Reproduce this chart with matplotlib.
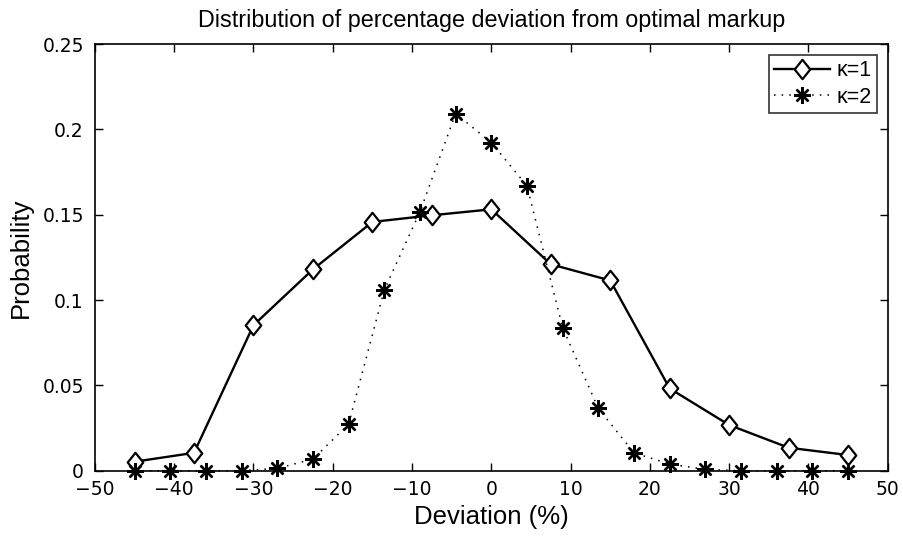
import matplotlib
matplotlib.use("Agg")
from matplotlib import pyplot as plt
from matplotlib.path import Path

plt.rcParams["font.family"] = ["Liberation Sans", "DejaVu Sans"]

# kappa = 1 (diamonds)
x_k1 = [-45, -37.5, -30, -22.5, -15, -7.5, 0, 7.5, 15, 22.5, 30, 37.5, 45]
p_k1 = [0.0053, 0.0105, 0.0853, 0.118, 0.1458, 0.1497, 0.1532, 0.121, 0.1115,
        0.0482, 0.0268, 0.0135, 0.0092]

# kappa = 2 (stars)
x_k2 = [-45, -40.5, -36, -31.5, -27, -22.5, -18, -13.5, -9, -4.5, 0, 4.5, 9,
        13.5, 18, 22.5, 27, 31.5, 36, 40.5, 45]
p_k2 = [0.0, 0.0, 0.0, 0.0, 0.0014, 0.0068, 0.0273, 0.106, 0.1517, 0.2093,
        0.1923, 0.1669, 0.0837, 0.0365, 0.0105, 0.0039, 0.0008, 0.0, 0.0, 0.0, 0.0]

x_ticks = [-50, -40, -30, -20, -10, 0, 10, 20, 30, 40, 50]
y_ticks = [0, 0.05, 0.1, 0.15, 0.2, 0.25]
y_labels = ["0", "0.05", "0.1", "0.15", "0.2", "0.25"]

# rombo un poco mas alto que ancho, como el de matlab
rombo = Path([(0, 1), (0.8, 0), (0, -1), (-0.8, 0), (0, 1)],
             [Path.MOVETO, Path.LINETO, Path.LINETO, Path.LINETO, Path.CLOSEPOLY])

fig = plt.figure(figsize=(9.04, 5.38), dpi=100)
ax = fig.add_axes([0.105, 0.125, 0.877, 0.793])

ax.plot(x_k1, p_k1, color="black", linewidth=1.7, marker=rombo, markersize=14,
        markerfacecolor="white", markeredgecolor="black", markeredgewidth=1.6,
        label="\u03ba=1", clip_on=False, zorder=3)
ax.plot(x_k2, p_k2, color="black", linewidth=1.1, linestyle=(0, (1, 4)),
        marker=(8, 2, 0), markersize=12, markeredgewidth=1.7,
        markeredgecolor="black", label="\u03ba=2", clip_on=False, zorder=3)

ax.set_xlim(-50, 50)
ax.set_ylim(0, 0.25)
ax.set_xticks(x_ticks)
ax.set_xticklabels(["\u2212" + str(-v) if v < 0 else str(v) for v in x_ticks])
ax.set_yticks(y_ticks)
ax.set_yticklabels(y_labels)
ax.tick_params(direction="in", top=True, right=True, length=6, width=1)
ax.tick_params(axis="x", pad=7)
ax.tick_params(axis="y", pad=8)
for lab in ax.get_xticklabels() + ax.get_yticklabels():
    lab.set_fontfamily("DejaVu Sans")
    lab.set_fontsize(13.5)
for s in ax.spines.values():
    s.set_linewidth(1.2)

ax.set_title("Distribution of percentage deviation from optimal markup",
             fontsize=16.8, pad=12)
ax.set_xlabel("Deviation (%)", fontsize=18.5, labelpad=4)
ax.set_ylabel("Probability", fontsize=18.5, labelpad=7)

leg = ax.legend(loc="upper right", fontsize=15.5, frameon=True, fancybox=False,
                edgecolor="black", handlelength=2.6, borderaxespad=0.5,
                labelspacing=0.25, handletextpad=0.3, borderpad=0.25)
leg.get_frame().set_linewidth(1.2)

plt.savefig("out.png", dpi=100)
